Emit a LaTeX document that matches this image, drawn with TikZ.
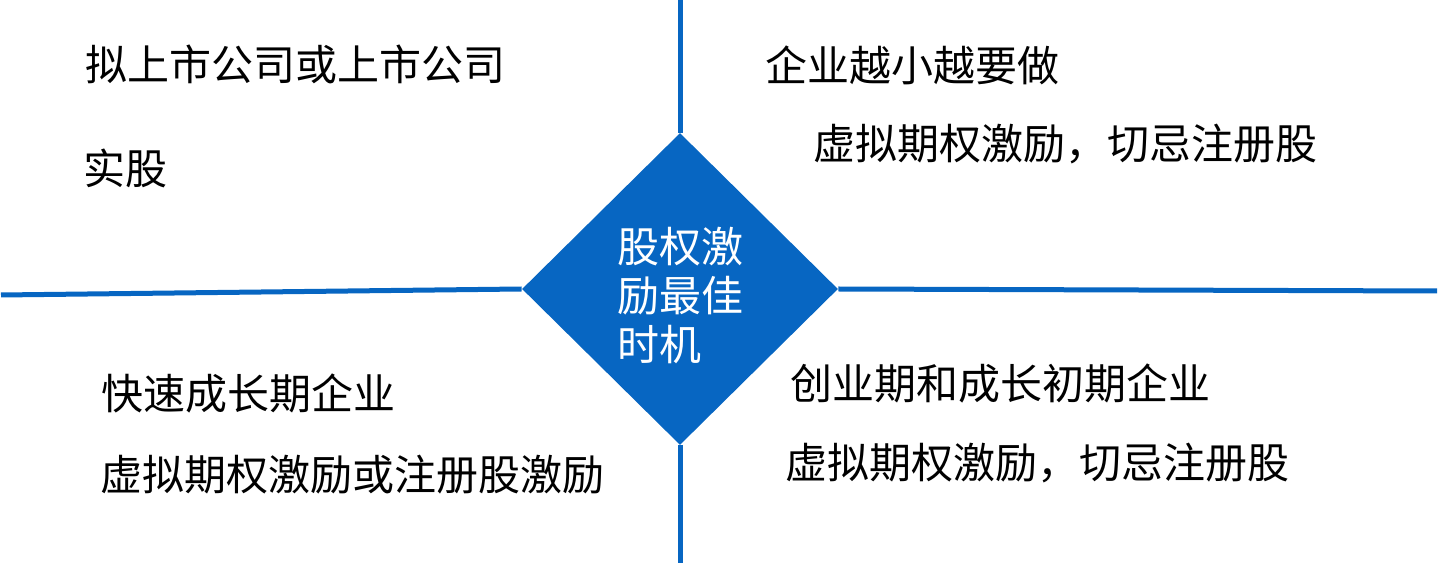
\documentclass[tikz,border=0pt]{standalone}
\usepackage{fontspec}
\newfontfamily\cjk{Noto Sans CJK SC}
\usetikzlibrary{shapes.geometric}
\definecolor{hubblue}{RGB}{7,102,194}
\begin{document}
\begin{tikzpicture}[x=0.5pt,y=-0.5pt]
	\newcommand{\myfonttext}{\cjk\fontsize{21}{24.5}\selectfont}
	\tikzset{
		hub/.style={diamond,fill=hubblue,inner sep=0pt,minimum width=158pt,minimum height=156pt},
		axis/.style={draw=hubblue,line width=2.5pt},
		tip/.style={anchor=west,inner sep=0pt,font=\myfonttext}
	}
	\useasboundingbox (0,0) rectangle (1441,566);
	%The diamond in the middle
	\node [hub] (hub) at (680,289) {};
	\node [text=white,align=left,inner sep=0pt,font=\myfonttext] (hubtext) at (680,296) {股权激\\励最佳\\时机};
	%Free ends of the axes
	\coordinate (top) at (680,0);
	\coordinate (bottom) at (680,563);
	\coordinate (left) at (1,295);
	\coordinate (right) at (1437,291);
	%The axes
	\draw [axis] (top) -- (hub.north);
	\draw [axis] (hub.south) -- (bottom);
	\draw [axis] (left) -- (hub.west);
	\draw [axis] (hub.east) -- (right);
	%Top left
	\node [tip] (tl1) at (85,64) {拟上市公司或上市公司};
	\node [tip] (tl2) at (83,168) {实股};
	%Top right
	\node [tip] (tr1) at (765,65) {企业越小越要做};
	\node [tip] (tr2) at (813,144) {虚拟期权激励，切忌注册股};
	%Bottom left
	\node [tip] (bl1) at (101,393) {快速成长期企业};
	\node [tip] (bl2) at (100,475) {虚拟期权激励或注册股激励};
	%Bottom right
	\node [tip] (br1) at (790,384) {创业期和成长初期企业};
	\node [tip] (br2) at (785,463) {虚拟期权激励，切忌注册股};
\end{tikzpicture}
\end{document}
